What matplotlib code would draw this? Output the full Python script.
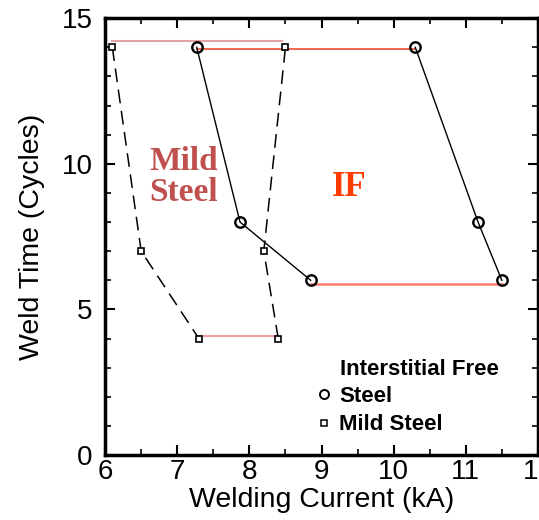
import matplotlib.pyplot as plt
from matplotlib.lines import Line2D

plt.rcParams['font.family'] = ['Liberation Sans', 'DejaVu Sans']

# ---------- data ----------
# Mild steel lobe (squares, dashed)
mild_left_x = [6.1, 6.5, 7.3]
mild_left_y = [14, 7, 4]
mild_right_x = [8.4, 8.2, 8.5]
mild_right_y = [4, 7, 14]
mild_top_x = [6.1, 8.45]
mild_top_y = [14.22, 14.22]
mild_bot_x = [7.3, 8.4]
mild_bot_y = [4.1, 4.1]

# Interstitial free steel lobe (circles, solid)
if_left_x = [7.27, 7.87, 8.85]
if_left_y = [14, 8, 6]
if_right_x = [10.3, 11.17, 11.5]
if_right_y = [14, 8, 6]
if_top_x = [7.27, 10.3]
if_top_y = [13.95, 13.95]
if_bot_x = [8.85, 11.5]
if_bot_y = [5.87, 5.87]

fig = plt.figure(figsize=(5.39, 5.20), dpi=100)
ax = fig.add_axes([0.195, 0.125, 0.803, 0.84])

# boundary lines
ax.plot(mild_top_x, mild_top_y, color="#e3a3a3", lw=1.5, zorder=1)
ax.plot(mild_bot_x, mild_bot_y, color="#f0a0a0", lw=1.5, zorder=1)
ax.plot(if_top_x, if_top_y, color="#e8401c", lw=1.1, zorder=1)
ax.plot(if_bot_x, if_bot_y, color="#ff8070", lw=1.8, zorder=1)

dash = (0, (9, 5))
for xs, ys in [(mild_left_x, mild_left_y), (mild_right_x, mild_right_y)]:
    ax.plot(xs, ys, color="black", lw=1.1, linestyle=dash, marker="s", ms=5,
            mfc="white", mec="black", mew=1.2, zorder=3)
for xs, ys in [(if_left_x, if_left_y), (if_right_x, if_right_y)]:
    ax.plot(xs, ys, color="black", lw=1.0, marker="o", ms=7.5,
            mfc="none", mec="black", mew=1.7, zorder=3)

ax.text(7.09, 9.55, "Mild\nSteel", family="Liberation Serif", fontweight="bold",
        fontsize=24, color="#c0504d", ha="center", va="center", linespacing=1.0)
ax.text(9.38, 9.2, "IF", family="Liberation Serif", fontweight="bold",
        fontsize=25, color="#ff3c00", ha="center", va="center")

# legend
ax.text(9.25, 2.95, "Interstitial Free", fontweight="bold", fontsize=16,
        ha="left", va="center")
handles = [
    Line2D([], [], ls="none", marker="o", ms=6.5, mfc="none", mec="black", mew=1.4),
    Line2D([], [], ls="none", marker="s", ms=4.5, mfc="none", mec="black", mew=1.1),
]
ax.legend(handles, ["Steel", "Mild Steel"], loc="upper left",
          bbox_to_anchor=(8.94, 2.38), bbox_transform=ax.transData,
          frameon=False, prop={"weight": "bold", "size": 16},
          handlelength=0.6, handletextpad=0.4, labelspacing=0.35,
          borderpad=0, borderaxespad=0)

ax.set_xlim(6, 12)
ax.set_ylim(0, 15)
ax.set_xticks(range(6, 13))
ax.set_yticks([0, 5, 10, 15])
ax.set_xticks([6.5 + i for i in range(6)], minor=True)
ax.set_yticks([v for v in range(16) if v % 5], minor=True)
ax.tick_params(which="both", direction="in", top=True, right=True, labelsize=20)
ax.tick_params(which="major", length=7, width=1.5)
ax.tick_params(which="minor", length=4, width=1.2)
ax.tick_params(axis="y", pad=9)
ax.tick_params(axis="x", pad=3)
for s in ax.spines.values():
    s.set_linewidth(2.5)

ax.set_xlabel("Welding Current (kA)", fontsize=20.5, labelpad=1)
ax.set_ylabel("Weld Time (Cycles)", fontsize=20.5, labelpad=12)

plt.savefig("out.png", dpi=100)
